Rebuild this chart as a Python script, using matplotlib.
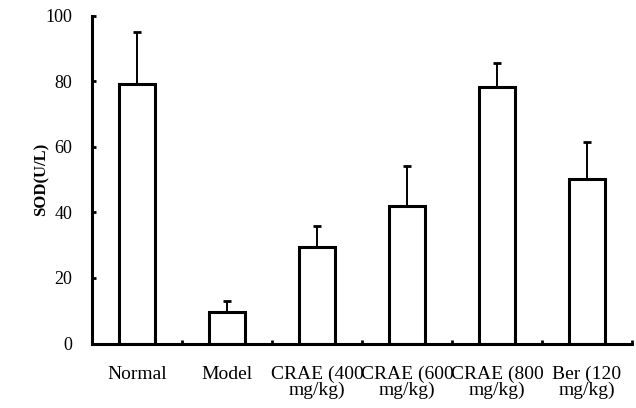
import matplotlib.pyplot as plt
import numpy as np

groups = ["Normal", "Model", "CRAE (400\nmg/kg)", "CRAE (600\nmg/kg)",
          "CRAE (800\nmg/kg)", "Ber (120\nmg/kg)"]
sod = [79.2, 9.7, 29.5, 41.9, 78.2, 50.2]
sod_err = [15.7, 3.3, 6.3, 12.3, 7.2, 11.2]
yticks = [0, 20, 40, 60, 80, 100]

plt.rcParams['font.family'] = ['Liberation Serif', 'DejaVu Serif']

fig = plt.figure(figsize=(6.36, 4.08), dpi=100)
ax = fig.add_axes([0.1447, 0.158, 0.849, 0.804])

x = np.arange(len(groups)) + 0.5
ax.bar(x, sod, width=0.41, color='white', edgecolor='black', linewidth=2.2, zorder=2)
# only the upper half of the error bar is drawn
ax.errorbar(x, sod, yerr=[np.zeros(len(sod)), sod_err], fmt='none',
            ecolor='black', elinewidth=1.4, capsize=3, capthick=2, zorder=1)

ax.set_xlim(0, len(groups))
ax.set_ylim(0, 100)
ax.set_yticks(yticks)
ax.set_xticks(x)
ax.set_xticklabels(groups, fontsize=14, linespacing=0.9)
ax.set_xticks(np.arange(1, len(groups) + 1), minor=True)
ax.tick_params(axis='x', which='major', length=0, pad=16)
ax.tick_params(axis='x', which='minor', direction='in', length=3, width=2)
ax.tick_params(axis='y', direction='in', length=3, width=2, labelsize=13, pad=14)
ax.set_ylabel("SOD(U/L)", fontsize=12, fontweight='bold', labelpad=-3)

for side in ['top', 'right']:
    ax.spines[side].set_visible(False)
for side in ['left', 'bottom']:
    ax.spines[side].set_linewidth(2.2)

plt.savefig("out.png", dpi=100)
plt.close()
